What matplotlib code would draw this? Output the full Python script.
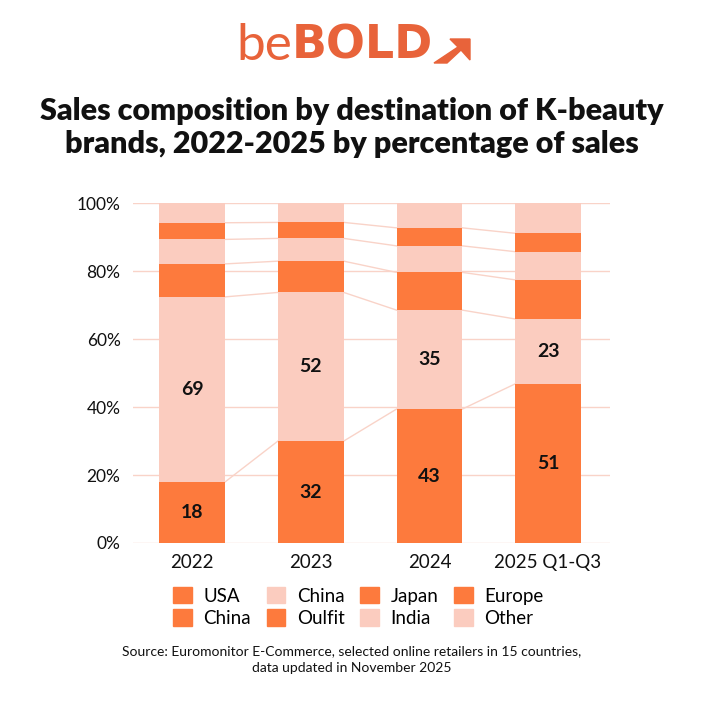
import numpy as np
import matplotlib.pyplot as plt
from matplotlib.patches import Patch, Polygon

years = ["2022", "2023", "2024", "2025 Q1-Q3"]

# segment shares (bottom to top)
seg_usa = [18.0, 30.0, 39.4, 46.8]
seg_china = [54.4, 43.7, 29.1, 19.1]
seg_3 = [9.7, 9.2, 11.1, 11.5]
seg_4 = [7.2, 6.7, 7.8, 8.3]
seg_5 = [4.9, 4.7, 5.3, 5.4]
seg_6 = [5.8, 5.7, 7.3, 8.9]

# printed labels
usa_labels = ["18", "32", "43", "51"]
china_labels = ["69", "52", "35", "23"]

legend_names = ["USA", "China", "China", "Oulfit", "Japan", "India", "Europe", "Other"]

DARK = "#FD7A3D"
LIGHT = "#FBCCBF"
GRID = "#F9D3C8"
LOGO = "#E8633A"
legend_colors = [DARK, DARK, LIGHT, DARK, DARK, LIGHT, DARK, LIGHT]

plt.rcParams['font.family'] = ['Lato', 'DejaVu Sans']

fig = plt.figure(figsize=(7.04, 7.04), dpi=100)
ax = fig.add_axes([0.189, 0.2287, 0.677, 0.4829])

segs = [seg_usa, seg_china, seg_3, seg_4, seg_5, seg_6]
cols = [DARK, LIGHT, DARK, LIGHT, DARK, LIGHT]
x = np.arange(len(years))
w = 0.555
bottom = np.zeros(len(years))
for s, c in zip(segs, cols):
    s = np.array(s)
    ax.bar(x, s, w, bottom=bottom, color=c, zorder=3, linewidth=0)
    bottom = bottom + s
    if bottom[0] < 99.9:
        for i in range(len(years) - 1):
            ax.plot([x[i] + w / 2, x[i + 1] - w / 2], [bottom[i], bottom[i + 1]],
                    color=GRID, lw=1, zorder=2)

for i in range(len(years)):
    ax.text(x[i], seg_usa[i] / 2, usa_labels[i], ha='center', va='center',
            fontsize=14, fontweight='bold', color='#111111', zorder=4)
    ax.text(x[i], seg_usa[i] + seg_china[i] / 2, china_labels[i], ha='center',
            va='center', fontsize=14, fontweight='bold', color='#111111', zorder=4)

ax.set_xlim(-0.5, 3.52)
ax.set_ylim(0, 100)
ax.set_yticks(np.arange(0, 101, 20))
ax.set_yticklabels([f"{v}%" for v in range(0, 101, 20)])
ax.set_xticks(x)
ax.set_xticklabels(years)
ax.tick_params(axis='both', length=0, colors='#111111')
ax.tick_params(axis='y', pad=9, labelsize=12.5)
ax.tick_params(axis='x', pad=8, labelsize=13.5)
ax.grid(axis='y', color=GRID, lw=1, zorder=0)
for sp in ax.spines.values():
    sp.set_visible(False)

handles = [Patch(color=c) for c in legend_colors]
fig.legend(handles, legend_names, ncol=4, loc='center', bbox_to_anchor=(0.509, 0.138),
           frameon=False, fontsize=13.5, handlelength=1.0, handleheight=1.0,
           handletextpad=0.6, columnspacing=0.85, labelspacing=0.25)

fig.text(0.5, 0.819, "Sales composition by destination of K-beauty\nbrands, 2022-2025 by percentage of sales",
         ha='center', va='center', fontsize=22, fontweight='heavy', color='#111111',
         linespacing=1.2)

fig.text(0.5, 0.063, "Source: Euromonitor E-Commerce, selected online retailers in 15 countries,\ndata updated in November 2025",
         ha='center', va='center', fontsize=10, color='#111111', linespacing=1.4)

# logo
fig.text(292 / 704, 1 - 46 / 704, "be", ha='right', va='center', fontsize=37, fontweight='normal', color=LOGO)
fig.text(292 / 704, 1 - 46 / 704, "BOLD", ha='left', va='center', fontsize=33, fontweight='bold',
         family='DejaVu Sans', color=LOGO)
arrow_px = [(434, 63), (447, 63), (461, 50), (470, 60), (470, 39), (450, 39), (458, 47)]
fig.patches.append(Polygon([[px / 704, 1 - py / 704] for px, py in arrow_px],
                           closed=True, transform=fig.transFigure, color=LOGO))

fig.savefig("out.png", dpi=100, facecolor='white')
